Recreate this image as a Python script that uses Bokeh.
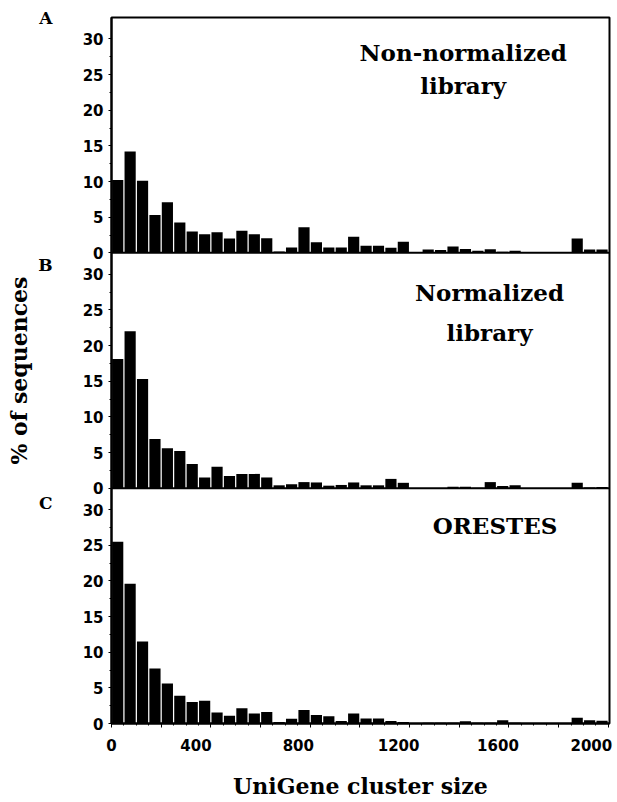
from bokeh.plotting import figure
from bokeh.models import Range1d, FixedTicker, LinearAxis, Span, Label
from bokeh.embed import file_html
from bokeh.resources import INLINE

# ---------------- data ----------------
BIN_WIDTH = 50
BIN_STARTS = list(range(0, 2000, BIN_WIDTH))          # 40 bins: 0-50, 50-100, ... 1950-2000
PANEL_LETTERS = ["A", "B", "C"]
PANEL_TITLES = [["Non-normalized", "library"], ["Normalized", "library"], ["ORESTES"]]

NON_NORMALIZED = [10.2, 14.2, 10.1, 5.3, 7.1, 4.25, 3.0, 2.6, 2.9, 2.0,
                  3.1, 2.6, 2.05, 0.2, 0.75, 3.6, 1.5, 0.75, 0.75, 2.25,
                  1.0, 1.0, 0.7, 1.55, 0.1, 0.45, 0.4, 0.9, 0.55, 0.3,
                  0.5, 0.15, 0.3, 0.0, 0.0, 0.0, 0.0, 2.0, 0.45, 0.45]
NORMALIZED = [18.1, 22.0, 15.3, 6.9, 5.6, 5.2, 3.4, 1.5, 3.0, 1.7,
              2.0, 2.0, 1.5, 0.4, 0.55, 0.85, 0.8, 0.35, 0.45, 0.8,
              0.4, 0.4, 1.3, 0.75, 0.0, 0.0, 0.0, 0.2, 0.2, 0.05,
              0.85, 0.3, 0.4, 0.0, 0.0, 0.0, 0.0, 0.75, 0.1, 0.15]
ORESTES = [25.5, 19.6, 11.5, 7.7, 5.6, 3.9, 3.0, 3.2, 1.55, 1.1,
           2.15, 1.4, 1.6, 0.2, 0.65, 1.9, 1.2, 1.0, 0.35, 1.4,
           0.7, 0.7, 0.35, 0.2, 0.05, 0.1, 0.1, 0.1, 0.3, 0.1,
           0.1, 0.45, 0.1, 0.05, 0.05, 0.05, 0.05, 0.8, 0.45, 0.4]
SERIES = [NON_NORMALIZED, NORMALIZED, ORESTES]

Y_TICKS = [0, 5, 10, 15, 20, 25, 30]
X_TICKS = [0, 400, 800, 1200, 1600, 2000]
X_MAJOR = list(range(0, 2001, 200))
X_MINOR = list(range(0, 2001, 50))

# ---------------- layout / style constants ----------------
PANEL_H = 33                          # data units per stacked panel
OFFSETS = [2 * PANEL_H, PANEL_H, 0]   # A on top, C at bottom
X_MAX = 2005
XLABEL_SHIFT = [0, 60, 48, 44, 44, 68]    # tick-label offset of the original print (data units)
TITLE_POS = [[(1416, 28.1), (1416, 23.4)], [(1522, 27.4), (1522, 21.8)], [(1544, 27.7)]]
LETTER_Y = [32.86, 31.3, 30.9]

SERIF = "DejaVu Serif"
SANS = "DejaVu Sans"

p = figure(width=616, height=801, output_backend="svg", toolbar_location=None,
           x_range=Range1d(0, X_MAX), y_range=Range1d(0, 3 * PANEL_H),
           x_axis_location=None, y_axis_location=None,
           min_border_left=111, min_border_right=7, min_border_top=17, min_border_bottom=76)
p.grid.visible = False
p.outline_line_color = "black"
p.outline_line_width = 2
p.background_fill_color = "white"
p.border_fill_color = "white"

centers = [s + BIN_WIDTH / 2 for s in BIN_STARTS]
for vals, off in zip(SERIES, OFFSETS):
    p.vbar(x=centers, width=BIN_WIDTH * 0.9, bottom=off,
           top=[off + v for v in vals], fill_color="black", line_color=None)

for off in OFFSETS[:2]:
    p.add_layout(Span(location=off, dimension="width", line_color="black", line_width=2))

# ---- y axis (three stacked 0-30 scales) ----
y_major = [off + t for off in OFFSETS for t in Y_TICKS]
y_minor = [off + t + 2.5 for off in OFFSETS for t in Y_TICKS[:-1]]
yax = LinearAxis(ticker=FixedTicker(ticks=y_major, minor_ticks=y_minor + y_major))
yax.major_label_overrides = {off + t: str(t) for off in OFFSETS for t in Y_TICKS}
yax.major_label_text_font = SANS
yax.major_label_text_font_style = "bold"
yax.major_label_text_font_size = "15px"
yax.major_label_text_color = "black"
yax.major_label_standoff = 5
yax.major_tick_in = 0
yax.major_tick_out = 3
yax.minor_tick_in = 0
yax.minor_tick_out = 2
yax.axis_line_width = 2
p.add_layout(yax, "left")

# ---- panel letters A/B/C (outer left axis) + y axis title ----
letter_pos = [off + y for off, y in zip(OFFSETS, LETTER_Y)]
lax = LinearAxis(ticker=FixedTicker(ticks=letter_pos, minor_ticks=[]))
lax.major_label_overrides = {pos: t for pos, t in zip(letter_pos, PANEL_LETTERS)}
lax.axis_line_color = None
lax.major_tick_line_color = None
lax.minor_tick_line_color = None
lax.major_label_text_font = SERIF
lax.major_label_text_font_style = "bold"
lax.major_label_text_font_size = "17px"
lax.major_label_text_color = "black"
lax.major_label_standoff = 21
lax.axis_label = "% of sequences"
lax.axis_label_text_font = SERIF
lax.axis_label_text_font_style = "bold"
lax.axis_label_text_font_size = "22px"
lax.axis_label_text_color = "black"
lax.axis_label_standoff = 3
p.add_layout(lax, "left")

# ---- x axis: tick marks ----
xax = LinearAxis(ticker=FixedTicker(ticks=X_MAJOR, minor_ticks=X_MINOR))
xax.major_label_overrides = {t: "" for t in X_MAJOR}
xax.major_label_standoff = 0
xax.major_tick_in = 0
xax.major_tick_out = 4
xax.minor_tick_in = 0
xax.minor_tick_out = 2
xax.axis_line_width = 2
p.add_layout(xax, "below")

# ---- x axis: labels (printed slightly left of their ticks in the original) ----
lab_pos = [t - s for t, s in zip(X_TICKS, XLABEL_SHIFT)]
xlab = LinearAxis(ticker=FixedTicker(ticks=lab_pos, minor_ticks=[]))
xlab.major_label_overrides = {pos: str(t) for pos, t in zip(lab_pos, X_TICKS)}
xlab.axis_line_color = None
xlab.major_tick_line_color = None
xlab.minor_tick_line_color = None
xlab.major_label_text_font = SANS
xlab.major_label_text_font_style = "bold"
xlab.major_label_text_font_size = "15px"
xlab.major_label_text_color = "black"
xlab.major_label_standoff = 5
xlab.axis_label = "UniGene cluster size"
xlab.axis_label_text_font = SERIF
xlab.axis_label_text_font_style = "bold"
xlab.axis_label_text_font_size = "22px"
xlab.axis_label_text_color = "black"
xlab.axis_label_standoff = 19
p.add_layout(xlab, "below")

# ---- panel titles ----
for off, lines, pos in zip(OFFSETS, PANEL_TITLES, TITLE_POS):
    for text, (tx, ty) in zip(lines, pos):
        p.add_layout(Label(x=tx, y=off + ty, text=text, text_align="center",
                           text_baseline="alphabetic", text_font=SERIF,
                           text_font_style="bold", text_font_size="23px", text_color="black"))

open("out.html", "w").write(file_html(p, INLINE))
